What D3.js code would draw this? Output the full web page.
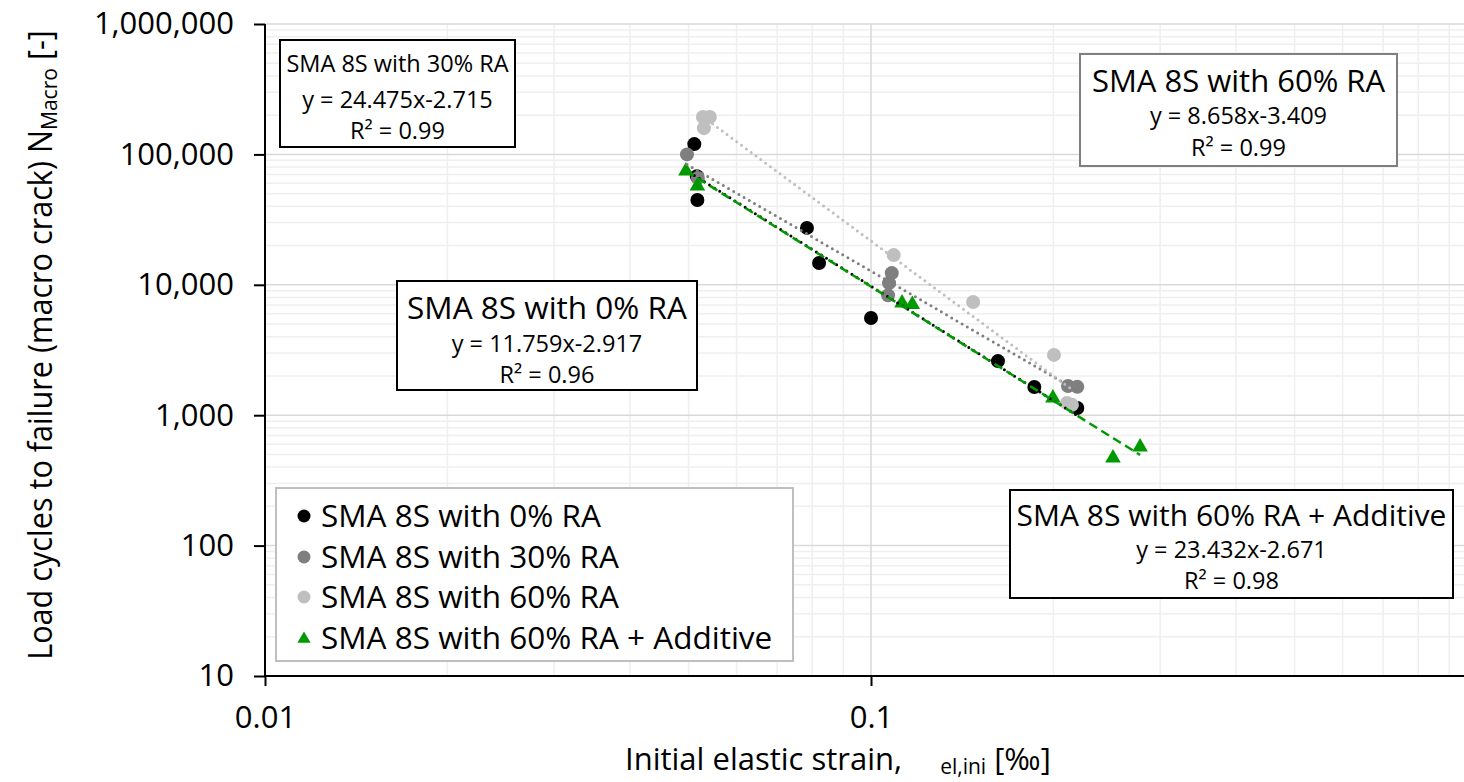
<!DOCTYPE html>
<html>
<head>
<meta charset="utf-8">
<script src="https://cdn.jsdelivr.net/npm/d3@7"></script>
<style>
  body { margin: 0; background: #fff; }
  svg text { font-family: "Open Sans", "Noto Sans", sans-serif; fill: #000; }
</style>
</head>
<body>
<svg id="chart" width="1464" height="782"></svg>
<script>
// ---- data: initial elastic strain [‰] vs. load cycles to macro crack ----
const seriesNames = [
  "SMA 8S with 0% RA",
  "SMA 8S with 30% RA",
  "SMA 8S with 60% RA",
  "SMA 8S with 60% RA + Additive"
];

const strain0  = [0.0511, 0.0516, 0.0517, 0.0784, 0.0821, 0.1000, 0.162, 0.186, 0.219];
const cycles0  = [120000, 68000, 44700, 27300, 14700, 5560, 2600, 1645, 1135];

const strain30 = [0.0497, 0.0518, 0.1082, 0.1071, 0.1067, 0.2114, 0.219];
const cycles30 = [100000, 66000, 12300, 10300, 8300, 1675, 1650];

const strain60 = [0.0528, 0.0542, 0.0530, 0.109, 0.1474, 0.2004, 0.2106, 0.2146];
const cycles60 = [193600, 193600, 159000, 16900, 7380, 2900, 1240, 1200];

const strainAdd = [0.0495, 0.0517, 0.1125, 0.117, 0.1996, 0.2508, 0.278];
const cyclesAdd = [75900, 58200, 7380, 7200, 1380, 478, 580];

const equationTexts = [
  "y = 11.759x-2.917",
  "y = 24.475x-2.715",
  "y = 8.658x-3.409",
  "y = 23.432x-2.671"
];
const r2Texts = ["R² = 0.96", "R² = 0.99", "R² = 0.99", "R² = 0.98"];

const xTickValues = [0.01, 0.1];
const xTickLabels = ["0.01", "0.1"];
const yTickValues = [10, 100, 1000, 10000, 100000, 1000000];

// ---- layout ----
const svg = d3.select("#chart");
const plot = { left: 265, right: 1477, top: 24, bottom: 676 };

const x = d3.scaleLog().domain([0.01, 1]).range([plot.left, plot.right]);
const y = d3.scaleLog().domain([10, 1000000]).range([plot.bottom, plot.top]);

const styles = [
  { color: "#000000", shape: "circle", dash: "0 6", width: 3 },
  { color: "#7f7f7f", shape: "circle", dash: "0 6", width: 3 },
  { color: "#bfbfbf", shape: "circle", dash: "0 6", width: 3 },
  { color: "#009900", shape: "triangle", dash: "9 5", width: 2.5 }
];

const series = [
  { xs: strain0, ys: cycles0 },
  { xs: strain30, ys: cycles30 },
  { xs: strain60, ys: cycles60 },
  { xs: strainAdd, ys: cyclesAdd }
];

// ---- gridlines ----
const grid = svg.append("g");
const xMinor = [], yMinor = [];
[0.01, 0.1].forEach(d => { for (let k = 2; k <= 9; k++) xMinor.push(k * d); });
[10, 100, 1000, 10000, 100000].forEach(d => { for (let k = 2; k <= 9; k++) yMinor.push(k * d); });

grid.selectAll(".xminor").data(xMinor).join("line")
  .attr("x1", d => x(d)).attr("x2", d => x(d))
  .attr("y1", plot.top).attr("y2", plot.bottom)
  .attr("stroke", "#efefef").attr("stroke-width", 1.5);
grid.selectAll(".yminor").data(yMinor).join("line")
  .attr("x1", plot.left).attr("x2", plot.right)
  .attr("y1", d => y(d)).attr("y2", d => y(d))
  .attr("stroke", "#efefef").attr("stroke-width", 1.5);
grid.selectAll(".xmajor").data([0.1, 1]).join("line")
  .attr("x1", d => x(d)).attr("x2", d => x(d))
  .attr("y1", plot.top).attr("y2", plot.bottom)
  .attr("stroke", "#d9d9d9").attr("stroke-width", 1.5);
grid.selectAll(".ymajor").data(yTickValues.slice(1)).join("line")
  .attr("x1", plot.left).attr("x2", plot.right)
  .attr("y1", d => y(d)).attr("y2", d => y(d))
  .attr("stroke", "#d9d9d9").attr("stroke-width", 1.5);

// ---- axes ----
const yAxis = svg.append("g")
  .attr("transform", `translate(${plot.left},0)`)
  .call(d3.axisLeft(y).tickValues(yTickValues).tickFormat(d3.format(",")).tickSize(11).tickPadding(20));
const xAxis = svg.append("g")
  .attr("transform", `translate(0,${plot.bottom})`)
  .call(d3.axisBottom(x).tickValues(xTickValues).tickFormat((d, i) => xTickLabels[i]).tickSize(10).tickPadding(20));

[yAxis, xAxis].forEach(a => {
  a.select(".domain").attr("stroke", "#000").attr("stroke-width", 2);
  a.selectAll(".tick line").attr("stroke", "#000").attr("stroke-width", 2);
  a.selectAll(".tick text").attr("font-size", 31).attr("font-family", '"Open Sans", sans-serif').attr("fill", "#000");
});
yAxis.select(".domain").attr("d", `M0,${plot.top}V${plot.bottom}`);
xAxis.select(".domain").attr("d", `M${plot.left},0H${plot.right}`);

// ---- markers ----
const marks = svg.append("g");
const triangle = d3.symbol(d3.symbolTriangle, 105);
series.forEach((s, i) => {
  const st = styles[i];
  const pts = s.xs.map((v, j) => [v, s.ys[j]]);
  if (st.shape === "circle") {
    marks.append("g").selectAll("circle").data(pts).join("circle")
      .attr("cx", d => x(d[0])).attr("cy", d => y(d[1])).attr("r", 7)
      .attr("fill", st.color);
  } else {
    marks.append("g").selectAll("path").data(pts).join("path")
      .attr("d", triangle)
      .attr("transform", d => `translate(${x(d[0])},${y(d[1]) + 1})`)
      .attr("fill", st.color);
  }
});

// ---- power-law trendlines (least squares in log-log space) ----
function powerFit(xs, ys) {
  const lx = xs.map(Math.log10), ly = ys.map(Math.log10);
  const mx = d3.mean(lx), my = d3.mean(ly);
  let sxy = 0, sxx = 0;
  lx.forEach((v, k) => { sxy += (v - mx) * (ly[k] - my); sxx += (v - mx) * (v - mx); });
  const b = sxy / sxx, a = my - b * mx;
  return v => Math.pow(10, a + b * Math.log10(v));
}
const trend = svg.append("g");
const line = d3.line().x(d => x(d[0])).y(d => y(d[1]));
series.forEach((s, i) => {
  const f = powerFit(s.xs, s.ys);
  const [lo, hi] = d3.extent(s.xs);
  const pts = d3.range(0, 21).map(k => {
    const v = Math.pow(10, Math.log10(lo) + (Math.log10(hi) - Math.log10(lo)) * k / 20);
    return [v, f(v)];
  });
  trend.append("path").datum(pts).attr("d", line)
    .attr("fill", "none").attr("stroke", styles[i].color)
    .attr("stroke-width", styles[i].width)
    .attr("stroke-dasharray", styles[i].dash)
    .attr("stroke-linecap", i === 3 ? "butt" : "round");
});

// ---- equation boxes ----
function eqBox(x0, y0, x1, y1, border, idx, titleSize, baselines) {
  const g = svg.append("g");
  g.append("rect").attr("x", x0).attr("y", y0).attr("width", x1 - x0).attr("height", y1 - y0)
    .attr("fill", "#fff").attr("stroke", border).attr("stroke-width", 2);
  const cx = (x0 + x1) / 2;
  g.append("text").attr("x", cx).attr("y", baselines[0]).attr("text-anchor", "middle")
    .attr("font-size", titleSize).text(seriesNames[idx]);
  g.append("text").attr("x", cx).attr("y", baselines[1]).attr("text-anchor", "middle")
    .attr("font-size", 23.5).text(equationTexts[idx]);
  g.append("text").attr("x", cx).attr("y", baselines[2]).attr("text-anchor", "middle")
    .attr("font-size", 23.5).text(r2Texts[idx]);
}
eqBox(280, 40, 515, 147, "#000", 1, 23.5, [72, 108, 139]);
eqBox(1080, 54, 1397, 166, "#7f7f7f", 2, 31, [92, 124, 156]);
eqBox(397, 281, 697, 390, "#000", 0, 31.5, [319, 352, 383]);
eqBox(1010, 490, 1453, 598, "#000", 3, 30, [526, 558, 589]);

// ---- legend ----
const legend = svg.append("g");
legend.append("rect").attr("x", 276).attr("y", 488).attr("width", 517).attr("height", 173)
  .attr("fill", "#fff").attr("stroke", "#bfbfbf").attr("stroke-width", 2);
const legendRows = [516, 557, 597, 638];
seriesNames.forEach((name, i) => {
  const cy = legendRows[i];
  if (styles[i].shape === "circle") {
    legend.append("circle").attr("cx", 304).attr("cy", cy).attr("r", 6.5).attr("fill", styles[i].color);
  } else {
    legend.append("path").attr("d", d3.symbol(d3.symbolTriangle, 75))
      .attr("transform", `translate(304,${cy + 1})`).attr("fill", styles[i].color);
  }
  legend.append("text").attr("x", 321).attr("y", cy).attr("dy", "0.36em")
    .attr("font-size", 31.5).text(name);
});

// ---- axis titles ----
const xt = svg.append("text").attr("x", 625).attr("y", 770).attr("font-size", 31);
xt.append("tspan").text("Initial elastic strain, ");
xt.append("tspan").attr("dx", 30).attr("font-size", 21).attr("dy", 4).text("el,ini");
xt.append("tspan").attr("dy", -4).text(" [‰]");

const ytG = svg.append("g").attr("transform", "translate(52,345) rotate(-90)");
const yt = ytG.append("text").attr("text-anchor", "middle").attr("font-size", 32);
yt.append("tspan").text("Load cycles to failure (macro crack) N");
yt.append("tspan").attr("font-size", 22).attr("dy", 5).text("Macro");
yt.append("tspan").attr("dy", -5).text(" [-]");
const ytLen = yt.node().getComputedTextLength();
yt.attr("transform", `scale(${630 / ytLen},1)`);
</script>
</body>
</html>
